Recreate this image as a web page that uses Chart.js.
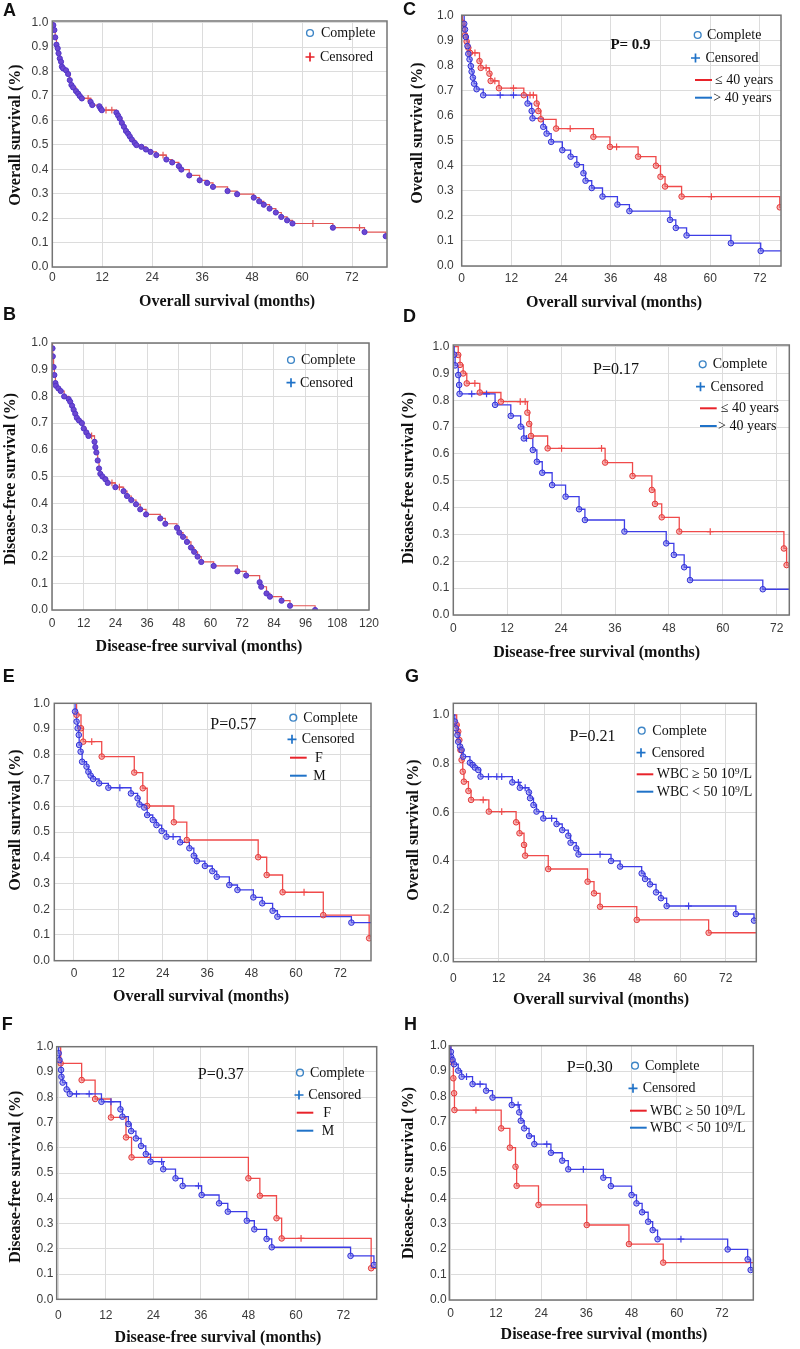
<!DOCTYPE html>
<html><head><meta charset="utf-8">
<script src="https://cdn.jsdelivr.net/npm/chart.js@4/dist/chart.umd.min.js"></script>
<style>
html,body{margin:0;padding:0;background:#fff;}
body{width:800px;height:1349px;position:relative;overflow:hidden;}
</style></head><body>
<script>
// ---------- tick label arrays ----------
const xTicks72 = [0,12,24,36,48,60,72];
const xTicks120 = [0,12,24,36,48,60,72,84,96,108,120];
const yTicksTenth = [0,0.1,0.2,0.3,0.4,0.5,0.6,0.7,0.8,0.9,1.0];
const yTicksFifth = [0,0.2,0.4,0.6,0.8,1.0];

// ---------- A: overall survival, all patients ----------
const A_evT = [0.24,0.5,0.7,1.0,1.3,1.5,1.8,2.1,2.3,2.6,3.3,3.8,4.2,4.6,5.0,5.7,6.2,6.6,7.1,9.2,9.6,11.3,11.6,11.9,15.4,15.8,16.2,16.7,17.2,17.7,18.2,18.6,19.1,19.8,20.2,21.4,22.5,23.6,25.0,27.4,28.8,30.4,31.0,32.9,35.4,37.2,38.6,42.1,44.4,48.4,49.7,50.8,52.2,53.7,55.0,56.4,57.7,67.4,75.0,80.1];
const A_evS = [0.99,0.97,0.94,0.91,0.895,0.875,0.854,0.84,0.82,0.813,0.805,0.79,0.765,0.745,0.735,0.72,0.71,0.70,0.69,0.676,0.663,0.658,0.649,0.642,0.632,0.62,0.608,0.59,0.574,0.557,0.546,0.535,0.522,0.508,0.499,0.492,0.481,0.471,0.458,0.44,0.428,0.413,0.399,0.375,0.355,0.344,0.328,0.311,0.298,0.284,0.269,0.255,0.239,0.223,0.205,0.191,0.178,0.161,0.143,0.126];
const A_ceT = [8.6,12.9,14.3,26.6,62.6,73.8];
const A_ceS = [0.69,0.642,0.642,0.458,0.178,0.161];
const A_end = 80.4;

// ---------- B: disease-free survival, all patients ----------
const B_evT = [0.2,0.3,0.6,0.9,1.3,1.5,2.4,3.3,4.6,6.3,6.9,7.6,8.2,8.8,9.4,10.2,11.3,12.0,13.0,13.8,16.1,16.4,16.8,17.3,17.8,18.3,19.1,20.2,21.1,24.0,27.1,28.4,30.0,31.8,33.4,35.6,41.0,42.9,47.3,48.2,49.6,51.1,52.6,53.8,55.1,56.5,61.2,70.2,73.5,78.6,79.2,81.2,82.5,86.9,90.1,99.6];
const B_evS = [0.98,0.95,0.91,0.88,0.85,0.84,0.83,0.82,0.80,0.79,0.78,0.765,0.75,0.735,0.72,0.71,0.70,0.68,0.665,0.652,0.63,0.61,0.59,0.56,0.53,0.51,0.50,0.49,0.476,0.46,0.445,0.427,0.412,0.396,0.377,0.358,0.343,0.323,0.308,0.29,0.274,0.255,0.234,0.218,0.2,0.18,0.165,0.145,0.129,0.104,0.087,0.062,0.05,0.035,0.016,0];
const B_ceT = [15.0,22.7,25.5];
const B_ceS = [0.652,0.476,0.46];
const B_end = 99.6;

// ---------- C: OS by age ----------
const C_rT = [0.2,0.4,0.8,1.2,1.6,2.0,4.3,4.6,6.7,7.0,9.0,15.0,18.1,18.5,19.1,22.8,31.8,35.8,42.6,46.9,48.0,49.1,53.1,76.8];
const C_rS = [0.97,0.95,0.92,0.895,0.87,0.85,0.817,0.79,0.767,0.738,0.709,0.681,0.648,0.618,0.585,0.548,0.515,0.475,0.436,0.40,0.356,0.317,0.277,0.234];
const C_rCT = [3.2,5.9,8.0,12.5,16.5,17.3,26.2,37.4,60.3];
const C_rCS = [0.85,0.79,0.738,0.709,0.681,0.681,0.548,0.475,0.277];
const C_bT = [0.6,0.8,1.0,1.4,1.6,1.9,2.2,2.4,2.7,3.0,3.6,5.2,15.9,16.9,17.1,19.7,20.5,21.6,24.3,26.3,27.8,29.4,29.9,31.4,34.0,37.6,40.5,50.3,51.7,54.3,65.0,72.2];
const C_bS = [0.966,0.943,0.913,0.877,0.846,0.824,0.797,0.775,0.751,0.727,0.705,0.681,0.648,0.618,0.589,0.555,0.528,0.495,0.462,0.436,0.404,0.37,0.34,0.311,0.277,0.245,0.219,0.184,0.152,0.122,0.091,0.06];
const C_bCT = [9.3,12.5];
const C_bCS = [0.681,0.681];
const C_end = 77.1;

// ---------- D: DFS by age ----------
const D_rT = [1.1,1.5,2.2,3.0,5.9,10.6,16.5,16.9,17.3,21.0,33.8,39.9,44.2,44.9,46.4,50.3,73.6,74.2];
const D_rS = [0.969,0.932,0.90,0.863,0.829,0.795,0.754,0.712,0.667,0.621,0.568,0.518,0.466,0.414,0.364,0.311,0.248,0.186];
const D_rCT = [4.8,14.9,16.0,24.1,33.0,57.2];
const D_rCS = [0.863,0.795,0.795,0.621,0.621,0.311];
const D_bT = [0.2,0.4,1.1,1.3,1.4,9.3,12.8,15.0,15.7,17.7,18.6,19.8,22.0,25.0,28.0,29.3,38.1,47.4,49.1,51.4,52.7,68.9];
const D_bS = [0.97,0.93,0.894,0.857,0.824,0.783,0.742,0.702,0.658,0.615,0.571,0.53,0.484,0.441,0.394,0.354,0.311,0.267,0.224,0.178,0.13,0.096];
const D_bCT = [4.1,7.4,16.3];
const D_bCS = [0.824,0.824,0.658];
const D_end = 74.8;

// ---------- E: OS by sex ----------
const E_rT = [0.7,1.9,2.5,7.5,16.3,18.6,19.8,27.0,30.5,49.8,52.1,56.4,67.4,79.8];
const E_rS = [0.955,0.903,0.851,0.793,0.731,0.67,0.601,0.538,0.469,0.402,0.333,0.266,0.177,0.087];
const E_rCT = [4.8,62.2];
const E_rCS = [0.851,0.266];
const E_bT = [0.3,0.7,1.0,1.3,1.4,1.8,2.2,3.4,3.9,4.5,5.2,6.8,9.3,15.4,17.2,17.7,19.0,19.8,21.3,22.3,23.7,25.0,28.7,31.2,32.4,33.2,35.4,37.4,38.6,42.0,44.2,48.5,50.9,53.7,55.0,75.0];
const E_bS = [0.968,0.929,0.903,0.877,0.838,0.812,0.773,0.754,0.734,0.719,0.706,0.689,0.672,0.65,0.631,0.607,0.595,0.566,0.547,0.527,0.504,0.482,0.46,0.437,0.408,0.387,0.368,0.348,0.326,0.294,0.275,0.246,0.223,0.194,0.171,0.148];
const E_bCT = [12.4,26.8];
const E_bCS = [0.672,0.482];
const E_end = 80.3;

// ---------- G: OS by WBC ----------
const G_rT = [0.9,1.3,1.6,1.9,2.2,2.5,2.8,4.0,4.7,9.4,16.6,17.5,18.7,19.0,25.1,35.5,37.2,38.8,48.5,67.5];
const G_rS = [0.959,0.932,0.897,0.856,0.815,0.767,0.726,0.688,0.651,0.603,0.559,0.514,0.466,0.422,0.367,0.315,0.267,0.212,0.158,0.105];
const G_rCT = [7.9,12.8];
const G_rCS = [0.651,0.603];
const G_bT = [0.4,0.7,1.1,1.3,1.8,2.2,2.6,4.4,5.1,5.7,6.6,7.2,15.6,17.6,20.0,20.3,21.2,22.0,23.8,27.3,28.8,30.4,31.0,32.5,33.1,41.7,44.1,49.8,50.7,52.0,53.6,54.9,56.4,74.7,79.5];
const G_bS = [0.973,0.945,0.918,0.89,0.87,0.856,0.829,0.804,0.795,0.784,0.774,0.747,0.723,0.701,0.682,0.658,0.63,0.603,0.575,0.552,0.527,0.504,0.475,0.452,0.427,0.40,0.377,0.349,0.326,0.304,0.271,0.247,0.215,0.182,0.155];
const G_bCT = [9.3,11.5,12.8,17.2,19.0,26.0,38.8,62.2];
const G_bCS = [0.747,0.747,0.747,0.723,0.701,0.575,0.427,0.215];
const G_end = 80.1;

// ---------- F: DFS by sex ----------
const F_rT = [0.6,5.9,9.3,13.3,17.1,18.5,48.0,50.9,55.1,56.4,79.0];
const F_rS = [0.934,0.868,0.793,0.72,0.641,0.562,0.479,0.41,0.321,0.241,0.123];
const F_rCT = [61.3];
const F_rCS = [0.241];
const F_bT = [0.1,0.3,0.7,0.8,1.1,2.1,2.9,10.9,15.7,16.2,17.7,18.4,19.6,20.9,22.1,23.3,26.5,29.6,31.4,36.2,40.6,42.8,47.6,49.5,52.6,53.9,73.8,79.7];
const F_bS = [0.974,0.947,0.908,0.881,0.858,0.831,0.813,0.782,0.752,0.723,0.694,0.666,0.637,0.607,0.575,0.545,0.515,0.479,0.449,0.413,0.38,0.347,0.311,0.277,0.239,0.206,0.172,0.136];
const F_bCT = [4.6,7.8,13.3,26.1,35.4];
const F_bCS = [0.813,0.813,0.782,0.545,0.449];
const F_end = 80.4;

// ---------- H: DFS by WBC ----------
const H_rT = [0.05,0.7,0.9,1.0,13.4,15.7,17.2,17.5,23.3,36.1,47.3,56.4];
const H_rS = [0.937,0.872,0.813,0.747,0.675,0.599,0.524,0.449,0.374,0.295,0.22,0.147];
const H_rCT = [6.7];
const H_rCS = [0.747];
const H_bT = [0.05,0.1,0.5,0.9,2.0,2.9,5.8,9.4,11.1,16.2,18.2,18.6,19.5,20.8,22.2,26.6,29.6,31.2,40.5,42.5,48.0,49.3,50.8,52.4,53.6,54.9,73.5,78.8,79.6];
const H_bS = [0.976,0.957,0.944,0.927,0.902,0.878,0.849,0.823,0.796,0.767,0.738,0.705,0.675,0.645,0.613,0.579,0.548,0.514,0.481,0.448,0.413,0.38,0.345,0.308,0.275,0.239,0.199,0.16,0.118];
const H_bCT = [4.2,7.8,17.9,25.5,35.2,61.1];
const H_bCS = [0.878,0.849,0.767,0.613,0.514,0.239];
const H_end = 80.3;

// ---------- styles ----------
const SANS = '"Liberation Sans", Arial, sans-serif';
const SERIF = '"Liberation Serif", "Times New Roman", serif';
const GRID = '#dcdcdc';
const TICKC = '#3a3a3a';
const LEG_RED = '#e8232a', LEG_BLUE = '#1f72c8', LEG_CIRC = '#3d85c6';
const STY = {
  mono: {line:'#e25656', lw:1.2, mb:'#5236c8', mf:'#6d48d2', r:2.6, ce:'#e25656'},
  red:  {line:'#f04a4a', lw:1.3, mb:'#e23a3a', mf:'rgba(240,120,120,0.55)', r:2.8, ce:'#f04a4a'},
  blue: {line:'#3d3de6', lw:1.3, mb:'#2f2fd6', mf:'rgba(115,115,235,0.55)', r:2.8, ce:'#3d3de6'}
};

function mk(T, S, CT, CS, end, sty){
  const ev = T.map((t,i)=>({x:t, y:S[i]}));
  const ce = CT.map((t,i)=>({x:t, y:CS[i]}));
  const line = [{x:0, y:1}].concat(ev, [{x:end, y:S[S.length-1]}]);
  return [
    {data:line, showLine:true, stepped:'before', borderColor:sty.line, borderWidth:sty.lw, pointRadius:0, fill:false, order:10},
    {data:ev, showLine:false, pointStyle:'circle', pointRadius:sty.r, pointBorderColor:sty.mb, pointBackgroundColor:sty.mf, pointBorderWidth:1, order:2},
    {data:ce, showLine:false, pointStyle:'cross', pointRadius:3.4, pointBorderColor:sty.ce, pointBorderWidth:1.2, order:3}
  ];
}

// ---------- panels (layout) ----------
const panels = [
 {box:[0,0,400,318], plot:[52.3,21,387,267], xr:[0,80.4], yr:[0,1.007], xt:xTicks72, yt:yTicksTenth, ypad:4, xpad:3,
  letter:['A',3,11.5], ytitle:['Overall survival (%)',15.8,135], xtitle:['Overall survival (months)',227,301.7],
  sets:()=>mk(A_evT,A_evS,A_ceT,A_ceS,A_end,STY.mono),
  legend:[{s:'circle',x:310,y:33,tx:321,t:'Complete'},{s:'plus',c:LEG_RED,x:310,y:57,tx:320,t:'Censored'}]},
 {box:[400,0,400,318], plot:[461.7,15,781,266], xr:[0,77.1], yr:[0,1.0], xt:xTicks72, yt:yTicksTenth, ypad:8, xpad:5.5,
  letter:['C',403,10], ytitle:['Overall survival (%)',418.3,133], xtitle:['Overall survival (months)',614,303.3],
  pval:{t:'P= 0.9',x:630.5,y:45,f:'bold 15px '},
  sets:()=>mk(C_bT,C_bS,C_bCT,C_bCS,C_end,STY.blue).concat(mk(C_rT,C_rS,C_rCT,C_rCS,C_end,STY.red)),
  legend:[{s:'circle',x:697.7,y:35,tx:707,t:'Complete'},{s:'plus',c:LEG_BLUE,x:695.5,y:58,tx:705.5,t:'Censored'},
          {s:'line',c:LEG_RED,x:695,x2:712,y:80,tx:715,t:'\u2264 40 years'},{s:'line',c:LEG_BLUE,x:695,x2:712,y:97.7,tx:713.3,t:'> 40 years'}]},
 {box:[0,300,400,362], plot:[52,343,369,610], xr:[0,120], yr:[0,1.0], xt:xTicks120, yt:yTicksTenth, ypad:4, xpad:6.5,
  letter:['B',3,315], ytitle:['Disease-free survival (%)',10.8,479], xtitle:['Disease-free survival (months)',199,646.7],
  sets:()=>mk(B_evT,B_evS,B_ceT,B_ceS,B_end,STY.mono),
  legend:[{s:'circle',x:291,y:360,tx:301,t:'Complete'},{s:'plus',c:LEG_BLUE,x:291,y:382.7,tx:300,t:'Censored'}]},
 {box:[400,300,400,365], plot:[453.3,345,789.3,615], xr:[0,74.8], yr:[0,1.006], xt:xTicks72, yt:yTicksTenth, ypad:4, xpad:6.5,
  letter:['D',403,316.7], ytitle:['Disease-free survival (%)',409.2,478], xtitle:['Disease-free survival (months)',596.7,653.3],
  pval:{t:'P=0.17',x:616,y:370,f:'16px '},
  sets:()=>mk(D_bT,D_bS,D_bCT,D_bCS,D_end,STY.blue).concat(mk(D_rT,D_rS,D_rCT,D_rCS,D_end,STY.red)),
  legend:[{s:'circle',x:702.7,y:364.3,tx:712.7,t:'Complete'},{s:'plus',c:LEG_BLUE,x:700.5,y:386.7,tx:710.5,t:'Censored'},
          {s:'line',c:LEG_RED,x:700,x2:716.7,y:408.3,tx:720.7,t:'\u2264 40 years'},{s:'line',c:LEG_BLUE,x:700,x2:716.7,y:426,tx:718,t:'> 40 years'}]},
 {box:[0,662,400,350], plot:[54.3,703.3,371,960.7], xr:[-5.32,80.3], yr:[0,1.0], xt:xTicks72, yt:yTicksTenth, ypad:4.3, xpad:6,
  letter:['E',2.7,677.3], ytitle:['Overall survival (%)',15.8,820], xtitle:['Overall survival (months)',201,996.7],
  pval:{t:'P=0.57',x:233.3,y:725,f:'16px '},
  sets:()=>mk(E_bT,E_bS,E_bCT,E_bCS,E_end,STY.blue).concat(mk(E_rT,E_rS,E_rCT,E_rCS,80.0,STY.red)),
  legend:[{s:'circle',x:293.3,y:717.7,tx:303.3,t:'Complete'},{s:'plus',c:LEG_BLUE,x:292,y:739.3,tx:301.7,t:'Censored'},
          {s:'line',c:LEG_RED,x:290,x2:306.7,y:757.7,tx:315,t:'F'},{s:'line',c:LEG_BLUE,x:290,x2:306.7,y:775.7,tx:313.3,t:'M'}]},
 {box:[400,662,400,352], plot:[453.3,703.3,756.3,961.7], xr:[0,80.1], yr:[-0.014,1.048], xt:xTicks72, yt:yTicksFifth, ypad:4, xpad:10,
  letter:['G',405,677.3], ytitle:['Overall survival (%)',414,830], xtitle:['Overall survival (months)',601,1000],
  pval:{t:'P=0.21',x:592.5,y:736.7,f:'16px '},
  sets:()=>mk(G_bT,G_bS,G_bCT,G_bCS,G_end,STY.blue).concat(mk(G_rT,G_rS,G_rCT,G_rCS,G_end,STY.red)),
  legend:[{s:'circle',x:641.7,y:730.7,tx:652.3,t:'Complete'},{s:'plus',c:LEG_BLUE,x:641,y:752.7,tx:651.7,t:'Censored'},
          {s:'line',c:LEG_RED,x:636.7,x2:653.3,y:774.3,tx:656.7,t:'WBC \u2265 50 10\u2079/L'},{s:'line',c:LEG_BLUE,x:636.7,x2:653.3,y:791.7,tx:656.7,t:'WBC < 50 10\u2079/L'}]},
 {box:[0,1010,400,339], plot:[56.7,1046.7,376.7,1299.3], xr:[-0.4,80.4], yr:[0,1.0], xt:xTicks72, yt:yTicksTenth, ypad:3.4, xpad:9,
  letter:['F',1.7,1025.3], ytitle:['Disease-free survival (%)',15.8,1176.7], xtitle:['Disease-free survival (months)',218,1338.3],
  pval:{t:'P=0.37',x:220.8,y:1075,f:'16px '},
  sets:()=>mk(F_bT,F_bS,F_bCT,F_bCS,F_end,STY.blue).concat(mk(F_rT,F_rS,F_rCT,F_rCS,F_end,STY.red)),
  legend:[{s:'circle',x:300,y:1072.7,tx:310,t:'Complete'},{s:'plus',c:LEG_BLUE,x:299,y:1095,tx:308.3,t:'Censored'},
          {s:'line',c:LEG_RED,x:296.7,x2:313.3,y:1112.7,tx:323.3,t:'F'},{s:'line',c:LEG_BLUE,x:296.7,x2:313.3,y:1130.7,tx:321.7,t:'M'}]},
 {box:[400,1010,400,339], plot:[449.3,1045.7,753.3,1300], xr:[-0.37,80.3], yr:[0,1.0], xt:xTicks72, yt:yTicksTenth, ypad:2.6, xpad:6.7,
  letter:['H',404,1025.3], ytitle:['Disease-free survival (%)',409.2,1173], xtitle:['Disease-free survival (months)',604,1335],
  pval:{t:'P=0.30',x:589.7,y:1067.7,f:'16px '},
  sets:()=>mk(H_bT,H_bS,H_bCT,H_bCS,H_end,STY.blue).concat(mk(H_rT,H_rS,H_rCT,H_rCS,H_end,STY.red)),
  legend:[{s:'circle',x:635,y:1065.7,tx:645,t:'Complete'},{s:'plus',c:LEG_BLUE,x:633,y:1088.3,tx:642.7,t:'Censored'},
          {s:'line',c:LEG_RED,x:630,x2:646.7,y:1110.7,tx:650,t:'WBC \u2265 50 10\u2079/L'},{s:'line',c:LEG_BLUE,x:630,x2:646.7,y:1127.7,tx:650,t:'WBC < 50 10\u2079/L'}]}
];

function makeDeco(p){
  return {
    id:'deco',
    afterDraw(chart){
      const ctx = chart.ctx, a = chart.chartArea, ox = p.box[0], oy = p.box[1];
      ctx.save();
      ctx.strokeStyle = '#747474'; ctx.lineWidth = 1.5;
      ctx.strokeRect(a.left, a.top, a.right - a.left, a.bottom - a.top);
      ctx.fillStyle = '#111';
      ctx.textBaseline = 'middle';
      ctx.textAlign = 'left';
      ctx.font = 'bold 18px ' + SANS;
      ctx.fillText(p.letter[0], p.letter[1] - ox, p.letter[2] - oy);
      ctx.font = 'bold 16px ' + SERIF;
      ctx.textAlign = 'center';
      ctx.fillText(p.xtitle[0], p.xtitle[1] - ox, p.xtitle[2] - oy);
      ctx.save();
      ctx.translate(p.ytitle[1] - ox, p.ytitle[2] - oy);
      ctx.rotate(-Math.PI / 2);
      ctx.fillText(p.ytitle[0], 0, 0);
      ctx.restore();
      if (p.pval) {
        ctx.font = p.pval.f + SERIF;
        ctx.textAlign = 'center';
        ctx.fillText(p.pval.t, p.pval.x - ox, p.pval.y - oy);
      }
      for (const it of p.legend) {
        const x = it.x - ox, y = it.y - oy;
        ctx.beginPath();
        if (it.s === 'circle') {
          ctx.strokeStyle = LEG_CIRC; ctx.lineWidth = 1.4;
          ctx.arc(x, y, 3.4, 0, Math.PI * 2); ctx.stroke();
        } else if (it.s === 'plus') {
          ctx.strokeStyle = it.c; ctx.lineWidth = 1.7;
          ctx.moveTo(x - 4.5, y); ctx.lineTo(x + 4.5, y);
          ctx.moveTo(x, y - 4.5); ctx.lineTo(x, y + 4.5); ctx.stroke();
        } else {
          ctx.strokeStyle = it.c; ctx.lineWidth = 2;
          ctx.moveTo(x, y); ctx.lineTo(it.x2 - ox, y); ctx.stroke();
        }
        ctx.fillStyle = '#111';
        ctx.font = '14px ' + SERIF;
        ctx.textAlign = 'left';
        ctx.fillText(it.t, it.tx - ox, y + 0.5);
      }
      ctx.restore();
    }
  };
}

function build(p){
  const [bx, by, bw, bh] = p.box;
  const [L, T, R, B] = p.plot;
  const cv = document.createElement('canvas');
  cv.width = bw; cv.height = bh;
  cv.style.cssText = 'position:absolute;left:' + bx + 'px;top:' + by + 'px;width:' + bw + 'px;height:' + bh + 'px;';
  document.body.appendChild(cv);
  new Chart(cv, {
    type: 'line',
    data: {datasets: p.sets()},
    options: {
      responsive: false, animation: false, devicePixelRatio: 1,
      layout: {padding: {left: 0, top: T - by, right: (bx + bw) - R, bottom: 0}},
      plugins: {legend: {display: false}, tooltip: {enabled: false}},
      scales: {
        x: {type: 'linear', min: p.xr[0], max: p.xr[1],
            afterFit: s => { s.height = (by + bh) - B; },
            afterBuildTicks: s => { s.ticks = p.xt.map(v => ({value: v})); },
            grid: {color: GRID, lineWidth: 1, drawTicks: false},
            border: {display: false},
            ticks: {padding: p.xpad, color: TICKC, font: {family: SANS, size: 12}, maxRotation: 0, autoSkip: false,
                    callback: v => String(v)}},
        y: {type: 'linear', min: p.yr[0], max: p.yr[1],
            afterFit: s => { s.width = L - bx; },
            afterBuildTicks: s => { s.ticks = p.yt.map(v => ({value: v})); },
            grid: {color: GRID, lineWidth: 1, drawTicks: false},
            border: {display: false},
            ticks: {padding: p.ypad, color: TICKC, font: {family: SANS, size: 12}, autoSkip: false,
                    callback: v => Number(v).toFixed(1)}}
      }
    },
    plugins: [makeDeco(p)]
  });
}
panels.forEach(build);
</script>
</body></html>
